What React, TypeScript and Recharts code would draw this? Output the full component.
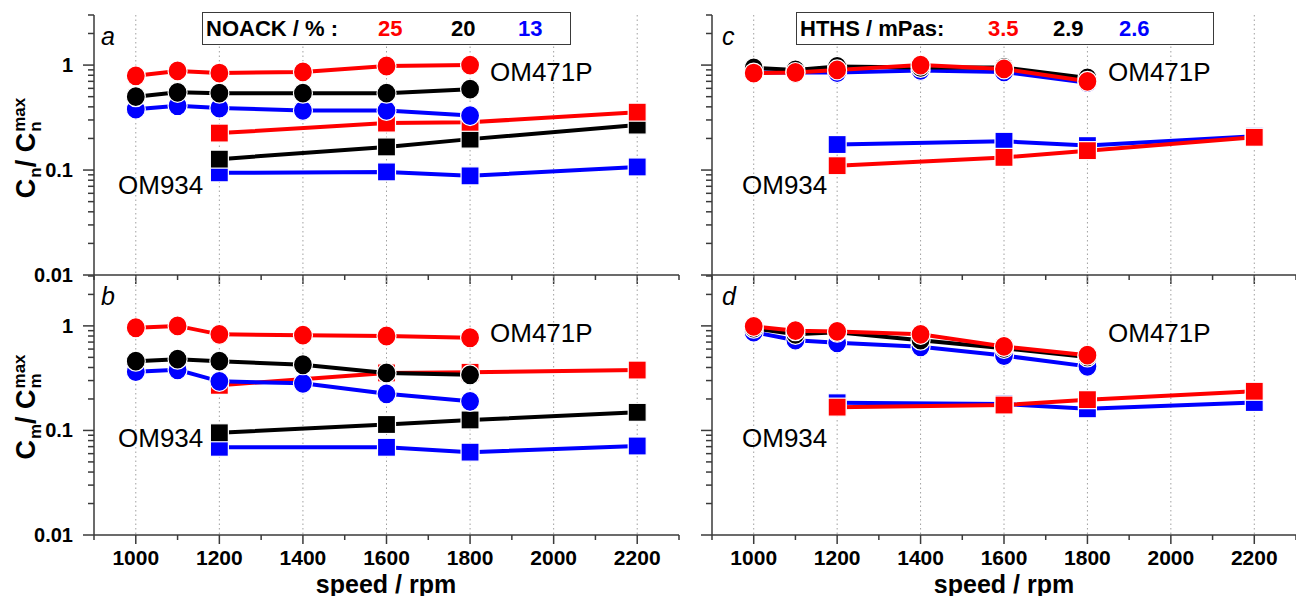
import React from "react";
import { LineChart, Line, XAxis, YAxis, CartesianGrid } from "recharts";

// x positions of the two engines
const circleRpm = [1000, 1100, 1200, 1400, 1600, 1800]; // OM471P
const squareRpm = [1200, 1600, 1800, 2200]; // OM934
const gridRpm = [1000, 1200, 1400, 1600, 1800, 2000, 2200];
const xTicks = [900, 1000, 1100, 1200, 1300, 1400, 1500, 1600, 1700, 1800, 1900, 2000, 2100, 2200, 2300];
const xLabels = [1000, 1200, 1400, 1600, 1800, 2000, 2200];
const yTicks = [
  0.01, 0.02, 0.03, 0.04, 0.05, 0.06, 0.07, 0.08, 0.09,
  0.1, 0.2, 0.3, 0.4, 0.5, 0.6, 0.7, 0.8, 0.9,
  1, 2, 3,
];
const yLabels: Record<string, string> = { "0.01": "0.01", "0.1": "0.1", "1": "1" };

// a: Cn, NOACK 25 / 20 / 13
const aCircle25 = [0.79, 0.88, 0.84, 0.86, 0.98, 1.0];
const aCircle20 = [0.5, 0.55, 0.54, 0.54, 0.54, 0.59];
const aCircle13 = [0.38, 0.41, 0.39, 0.37, 0.37, 0.33];
const aSquare25 = [0.225, 0.28, 0.285, 0.356];
const aSquare20 = [0.127, 0.166, 0.197, 0.268];
const aSquare13 = [0.094, 0.096, 0.088, 0.107];

// b: Cm, NOACK 25 / 20 / 13
const bCircle25 = [0.96, 1.0, 0.83, 0.815, 0.8, 0.77];
const bCircle20 = [0.46, 0.48, 0.46, 0.425, 0.355, 0.34];
const bCircle13 = [0.365, 0.38, 0.295, 0.282, 0.224, 0.19];
const bSquare25 = [0.27, 0.355, 0.36, 0.378];
const bSquare20 = [0.095, 0.114, 0.126, 0.149];
const bSquare13 = [0.069, 0.069, 0.062, 0.071];

// c: Cn, HTHS 3.5 / 2.9 / 2.6
const cCircle35 = [0.84, 0.85, 0.9, 1.0, 0.92, 0.7];
const cCircle29 = [0.94, 0.9, 0.97, 0.95, 0.95, 0.755];
const cCircle26 = [0.85, 0.85, 0.85, 0.89, 0.86, 0.68];
const cSquare35 = [0.11, 0.132, 0.153, 0.205];
const cSquare26 = [0.175, 0.188, 0.171, 0.21];

// d: Cm, HTHS 3.5 / 2.9 / 2.6
const dCircle35 = [0.99, 0.9, 0.886, 0.83, 0.636, 0.525];
const dCircle29 = [0.95, 0.83, 0.87, 0.73, 0.61, 0.505];
const dCircle26 = [0.87, 0.73, 0.69, 0.63, 0.52, 0.41];
const dSquare35 = [0.167, 0.175, 0.197, 0.237];
const dSquare26 = [0.184, 0.179, 0.161, 0.185];

const RED = "#ff0000";
const BLACK = "#000000";
const BLUE = "#0000ff";
const AXIS = "#3a3a3a";
const FONT = '"Liberation Sans", Arial, Helvetica, sans-serif';

type Series = { values: number[]; color: string };

const rows = (rpm: number[], values: number[]) =>
  rpm.map((r, i) => ({ rpm: r, v: values[i] }));

const circleDot = (color: string) => (p: any) => (
  <ellipse
    key={`c${p.index}`}
    cx={p.cx}
    cy={p.cy}
    rx={9.5}
    ry={10}
    fill={color}
    stroke="#fff"
    strokeWidth={1.2}
  />
);

const squareDot = (color: string) => (p: any) => (
  <rect
    key={`s${p.index}`}
    x={p.cx - 9}
    y={p.cy - 9}
    width={18}
    height={18}
    fill={color}
    stroke="#fff"
    strokeWidth={1.2}
  />
);

const XTick = ({ x, y, payload, showLabel }: any) => {
  const v = payload.value;
  const major = xLabels.includes(v);
  return (
    <g>
      <line x1={x} x2={x} y1={y} y2={y + (major ? 9 : 5)} stroke={AXIS} strokeWidth={1.5} />
      {showLabel && major && (
        <text
          x={x}
          y={y + 30}
          textAnchor="middle"
          fontFamily={FONT}
          fontWeight="bold"
          fontSize={21}
          fill="#000"
        >
          {v}
        </text>
      )}
    </g>
  );
};

const YTick = ({ x, y, payload, showLabel }: any) => {
  const label = yLabels[String(payload.value)];
  return (
    <g>
      <line x1={x} x2={x - (label ? 11 : 6)} y1={y} y2={y} stroke={AXIS} strokeWidth={1.5} />
      {showLabel && label && (
        <text
          x={x - 21}
          y={y + 7}
          textAnchor="end"
          fontFamily={FONT}
          fontWeight="bold"
          fontSize={20}
          fill="#000"
        >
          {label}
        </text>
      )}
    </g>
  );
};

interface PanelProps {
  left: number;
  top: number;
  width: number;
  height: number;
  marginTop: number;
  marginRight: number;
  yWidth: number;
  xHeight: number;
  showXLabels: boolean;
  showYLabels: boolean;
  circles: Series[];
  squares: Series[];
}

const Panel = ({
  left,
  top,
  width,
  height,
  marginTop,
  marginRight,
  yWidth,
  xHeight,
  showXLabels,
  showYLabels,
  circles,
  squares,
}: PanelProps) => (
  <div style={{ position: "absolute", left, top }}>
    <LineChart
      width={width}
      height={height}
      margin={{ top: marginTop, right: marginRight, bottom: 0, left: 0 }}
    >
      <CartesianGrid
        horizontal={false}
        verticalValues={gridRpm}
        stroke="#a0a0a0"
        strokeDasharray="1.5 3"
      />
      <XAxis
        dataKey="rpm"
        type="number"
        domain={[900, 2300]}
        ticks={xTicks}
        interval={0}
        allowDataOverflow
        tickSize={0}
        tickMargin={0}
        height={xHeight}
        tickLine={false}
        axisLine={{ stroke: AXIS, strokeWidth: 1.5 }}
        tick={(p: any) => <XTick {...p} showLabel={showXLabels} />}
      />
      <YAxis
        type="number"
        scale="log"
        domain={[0.01, 3]}
        allowDataOverflow
        ticks={yTicks}
        interval={0}
        tickSize={0}
        tickMargin={0}
        width={yWidth}
        tickLine={false}
        axisLine={{ stroke: AXIS, strokeWidth: 1.5 }}
        tick={(p: any) => <YTick {...p} showLabel={showYLabels} />}
      />
      {squares.map((s, i) => (
        <Line
          key={`sq${i}`}
          data={rows(squareRpm, s.values)}
          dataKey="v"
          stroke={s.color}
          strokeWidth={4}
          dot={squareDot(s.color)}
          activeDot={false}
          isAnimationActive={false}
        />
      ))}
      {circles.map((s, i) => (
        <Line
          key={`ci${i}`}
          data={rows(circleRpm, s.values)}
          dataKey="v"
          stroke={s.color}
          strokeWidth={4}
          dot={circleDot(s.color)}
          activeDot={false}
          isAnimationActive={false}
        />
      ))}
    </LineChart>
  </div>
);

const abs = (left: number, top: number, extra: React.CSSProperties = {}): React.CSSProperties => ({
  position: "absolute",
  left,
  top,
  whiteSpace: "nowrap",
  fontFamily: FONT,
  lineHeight: 1,
  ...extra,
});

const Stack = ({ sup, sub }: { sup: string; sub: string }) => (
  <span
    style={{
      display: "inline-flex",
      flexDirection: "column",
      fontSize: 17,
      lineHeight: 0.95,
      verticalAlign: "middle",
      marginLeft: 1,
    }}
  >
    <span>{sup}</span>
    <span>{sub}</span>
  </span>
);

const YTitle = ({ cy, idx }: { cy: number; idx: string }) => (
  <div
    style={abs(28, cy, {
      transform: "translate(-50%, -50%) rotate(-90deg)",
      fontWeight: "bold",
      fontSize: 27,
    })}
  >
    <span>C</span>
    <Stack sup={"\u00a0"} sub={idx} />
    <span>/ C</span>
    <Stack sup="max" sub={idx} />
  </div>
);

const LegendBox = ({
  left,
  width,
  title,
  items,
}: {
  left: number;
  width: number;
  title: string;
  items: { text: string; color: string; x: number }[];
}) => (
  <div
    style={{
      position: "absolute",
      left,
      top: 12,
      width,
      height: 33,
      boxSizing: "border-box",
      border: `1.5px solid ${AXIS}`,
      background: "#fff",
      fontFamily: FONT,
      fontWeight: "bold",
      fontSize: 22,
    }}
  >
    <span style={{ position: "absolute", left: 3, top: 5, lineHeight: 1 }}>{title}</span>
    {items.map((it) => (
      <span
        key={it.text}
        style={{ position: "absolute", left: it.x, top: 5, lineHeight: 1, color: it.color }}
      >
        {it.text}
      </span>
    ))}
  </div>
);

const App = () => {
  const common = { width: 690, marginRight: 11, yWidth: 94 };
  const right = { left: 690, width: 606, marginRight: 0, yWidth: 22 };
  const om = { fontSize: 26 };
  return (
    <div
      style={{
        position: "absolute",
        left: 0,
        top: 0,
        width: 1296,
        height: 596,
        overflow: "hidden",
        background: "#fff",
      }}
    >
      <Panel
        {...common}
        left={0}
        top={0}
        height={300}
        marginTop={15}
        xHeight={25}
        showXLabels={false}
        showYLabels
        squares={[
          { values: aSquare13, color: BLUE },
          { values: aSquare20, color: BLACK },
          { values: aSquare25, color: RED },
        ]}
        circles={[
          { values: aCircle13, color: BLUE },
          { values: aCircle20, color: BLACK },
          { values: aCircle25, color: RED },
        ]}
      />
      <Panel
        {...common}
        left={0}
        top={270}
        height={326}
        marginTop={6}
        xHeight={61}
        showXLabels
        showYLabels
        squares={[
          { values: bSquare13, color: BLUE },
          { values: bSquare20, color: BLACK },
          { values: bSquare25, color: RED },
        ]}
        circles={[
          { values: bCircle13, color: BLUE },
          { values: bCircle20, color: BLACK },
          { values: bCircle25, color: RED },
        ]}
      />
      <Panel
        {...right}
        top={0}
        height={300}
        marginTop={15}
        xHeight={25}
        showXLabels={false}
        showYLabels={false}
        squares={[
          { values: cSquare26, color: BLUE },
          { values: cSquare35, color: RED },
        ]}
        circles={[
          { values: cCircle26, color: BLUE },
          { values: cCircle29, color: BLACK },
          { values: cCircle35, color: RED },
        ]}
      />
      <Panel
        {...right}
        top={270}
        height={326}
        marginTop={6}
        xHeight={61}
        showXLabels
        showYLabels={false}
        squares={[
          { values: dSquare26, color: BLUE },
          { values: dSquare35, color: RED },
        ]}
        circles={[
          { values: dCircle26, color: BLUE },
          { values: dCircle29, color: BLACK },
          { values: dCircle35, color: RED },
        ]}
      />

      <YTitle cy={148} idx="n" />
      <YTitle cy={407} idx="m" />

      <div style={abs(101, 24, { fontStyle: "italic", fontSize: 25 })}>a</div>
      <div style={abs(101, 284, { fontStyle: "italic", fontSize: 25 })}>b</div>
      <div style={abs(722, 24, { fontStyle: "italic", fontSize: 25 })}>c</div>
      <div style={abs(722, 284, { fontStyle: "italic", fontSize: 25 })}>d</div>

      <div style={abs(490, 59, om)}>OM471P</div>
      <div style={abs(118, 172, om)}>OM934</div>
      <div style={abs(490, 320, om)}>OM471P</div>
      <div style={abs(118, 425, om)}>OM934</div>
      <div style={abs(1108, 59, om)}>OM471P</div>
      <div style={abs(742, 172, om)}>OM934</div>
      <div style={abs(1108, 320, om)}>OM471P</div>
      <div style={abs(742, 425, om)}>OM934</div>

      <LegendBox
        left={202}
        width={369}
        title="NOACK / % :"
        items={[
          { text: "25", color: RED, x: 175 },
          { text: "20", color: BLACK, x: 248 },
          { text: "13", color: BLUE, x: 315 },
        ]}
      />
      <LegendBox
        left={796}
        width={418}
        title="HTHS / mPas:"
        items={[
          { text: "3.5", color: RED, x: 191 },
          { text: "2.9", color: BLACK, x: 256 },
          { text: "2.6", color: BLUE, x: 322 },
        ]}
      />

      <div
        style={abs(386, 584, {
          transform: "translate(-50%, -50%)",
          fontWeight: "bold",
          fontSize: 25,
        })}
      >
        speed / rpm
      </div>
      <div
        style={abs(1004, 584, {
          transform: "translate(-50%, -50%)",
          fontWeight: "bold",
          fontSize: 25,
        })}
      >
        speed / rpm
      </div>
    </div>
  );
};

export default App;
